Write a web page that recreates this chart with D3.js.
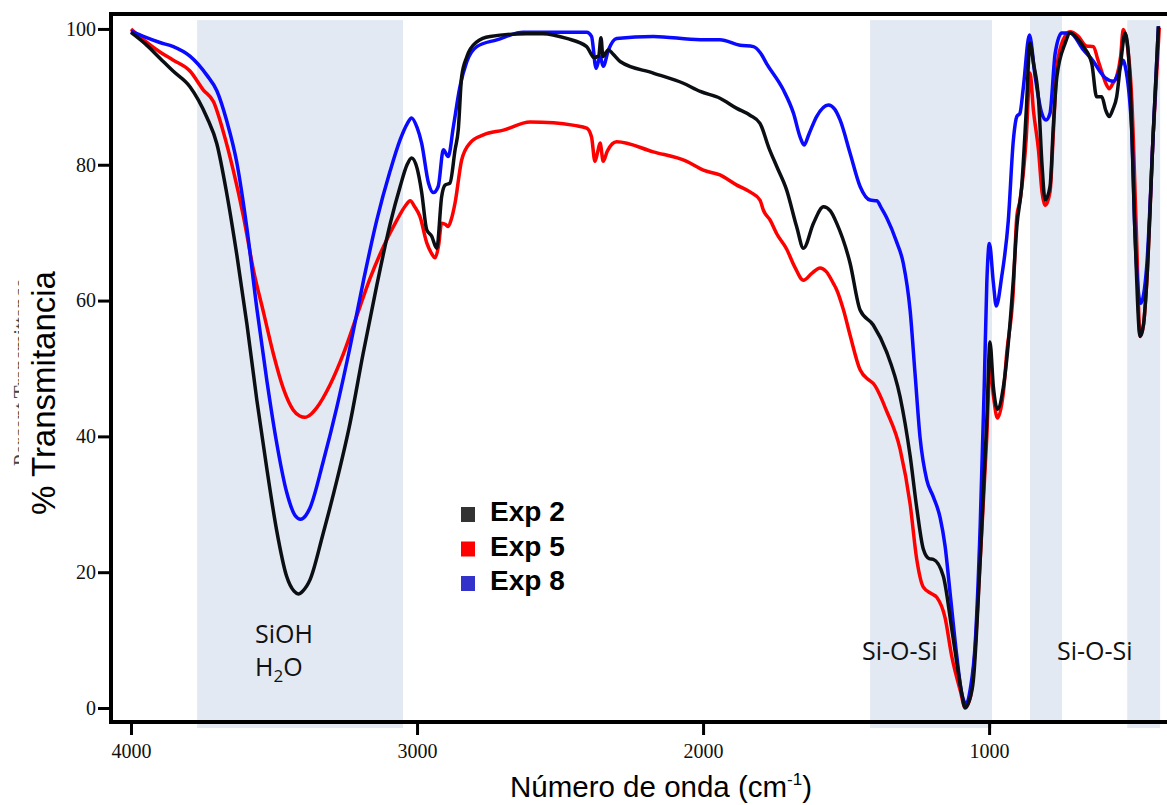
<!DOCTYPE html>
<html>
<head>
<meta charset="utf-8">
<script src="https://cdn.jsdelivr.net/npm/d3@7"></script>
<style>
  body { margin: 0; background: #fff; }
  svg { display: block; }
</style>
</head>
<body>
<div id="chart"></div>
<script>
// wavenumber (cm-1) / % transmittance
const exp2Wn = [4000,3950,3899,3853,3794,3735,3700,3665,3630,3595,3560,3525,3491,3456,3430,3415,3400,3374,3329,3281,3234,3189,3141,3094,3059,3035,3019,3000,2984,2966,2949,2931,2914,2902,2885,2867,2856,2844,2826,2791,2745,2617,2560,2477,2407,2390,2382,2365,2357,2350,2343,2331,2315,2290,2174,2069,2010,1941,1882,1836,1801,1770,1742,1708,1673,1649,1614,1579,1555,1533,1486,1451,1405,1358,1311,1276,1253,1230,1210,1195,1160,1131,1113,1095,1084,1070,1055,1031,1008,997,985,971,950,916,903,886,870,857,845,827,815,804,787,775,763,734,717,690,670,641,624,606,592,580,567,554,540,524,507,490,472,460,449,426,408];
const exp2T = [99.5,97.8,95.7,93.8,91.5,87.0,83.1,75.7,66.7,56.6,45.3,35.2,26.2,19.4,17.2,16.8,17.2,18.9,25.6,33.4,42.0,52.1,62.2,71.3,76.8,80.0,81.0,79.5,76.0,70.4,69.5,67.7,75.3,77.0,77.3,82.2,85.1,93.0,95.9,98.1,98.9,99.3,99.3,98.6,97.4,96.2,95.8,96.0,98.7,95.9,96.3,96.9,96.3,95.2,93.5,92.0,90.8,89.8,88.3,87.3,86.1,82.5,79.7,76.3,70.9,67.7,71.4,73.8,73.2,71.4,65.5,58.6,56.4,52.4,45.8,37.1,29.5,23.4,22.0,21.9,19.4,11.8,6.7,2.0,0.0,1.0,4.1,21.9,42.3,53.9,47.3,44.0,47.3,62.6,70.9,76.8,88.0,97.9,95.0,89.5,80.0,74.8,76.8,86.0,93.0,97.9,99.4,98.5,97.4,94.9,90.0,90.0,88.0,87.1,88.2,90.0,95.0,99.4,92.0,70.0,54.7,56.5,62.6,84.7,100.4];

const exp5Wn = [4000,3950,3899,3852,3794,3747,3712,3677,3642,3607,3572,3537,3502,3467,3433,3410,3392,3370,3351,3304,3258,3211,3164,3118,3071,3040,3024,3008,2990,2966,2950,2937,2925,2914,2900,2891,2880,2867,2844,2815,2768,2698,2605,2523,2450,2407,2390,2378,2368,2360,2349,2335,2302,2174,2057,1999,1941,1882,1836,1801,1789,1765,1742,1708,1680,1649,1620,1591,1570,1544,1533,1509,1486,1451,1420,1405,1358,1311,1276,1253,1230,1200,1183,1154,1131,1101,1084,1066,1050,1031,1008,997,985,971,950,938,916,903,892,870,857,845,827,815,804,787,775,763,740,717,690,660,635,620,606,592,580,567,554,540,531,520,501,485,472,460,449,426,405];
const exp5T = [100.0,98.2,96.6,95.4,93.8,91.0,89.3,84.8,79.1,72.4,64.5,58.3,52.1,47.0,43.9,43.0,42.8,43.3,44.2,47.6,52.1,57.7,63.3,67.9,71.8,74.0,74.7,73.8,72.4,68.5,67.0,66.3,68.0,71.4,71.2,70.9,72.0,74.4,80.7,83.2,84.4,85.1,86.3,86.2,85.8,85.4,84.1,80.5,82.0,83.2,80.5,82.0,83.4,81.9,80.5,79.2,78.5,77.0,76.0,74.8,73.3,71.8,69.8,67.6,65.0,63.0,64.0,64.8,64.3,62.5,61.6,58.6,54.9,49.8,48.3,47.8,43.7,38.1,30.0,21.9,17.8,16.8,16.3,13.3,7.7,2.6,0.1,1.5,8.0,22.0,40.0,50.5,46.0,42.7,46.5,52.4,61.0,72.4,74.7,84.0,93.5,88.0,82.0,76.0,74.0,76.0,85.0,94.4,98.5,99.6,99.0,97.5,97.4,95.5,93.7,92.0,91.2,92.0,93.0,96.0,99.9,98.5,89.5,70.0,54.7,56.5,62.6,84.7,100.2];

const exp8Wn = [4000,3950,3899,3852,3794,3735,3700,3665,3630,3595,3560,3525,3491,3456,3427,3407,3390,3374,3328,3281,3234,3188,3141,3094,3059,3035,3019,3000,2984,2960,2943,2926,2908,2891,2873,2850,2826,2791,2721,2628,2407,2390,2374,2360,2349,2331,2302,2174,2010,1941,1871,1824,1800,1778,1719,1684,1660,1647,1630,1603,1562,1540,1521,1486,1451,1416,1393,1375,1358,1323,1300,1276,1259,1241,1218,1195,1171,1154,1136,1113,1095,1080,1065,1049,1031,1017,1008,999,985,975,956,933,915,903,892,880,859,839,816,801,787,769,746,717,670,635,612,594,565,548,531,524,501,490,470,449,426,408];
const exp8T = [99.7,98.8,98.0,97.4,96.0,93.2,90.9,86.4,80.3,70.7,58.8,48.2,39.1,31.8,28.4,27.8,28.3,29.5,36.3,44.2,53.2,62.8,71.8,79.1,83.7,86.0,86.9,85.5,83.2,77.3,75.9,76.8,82.2,81.2,85.6,91.5,95.2,97.4,98.4,99.5,99.5,98.9,94.2,95.9,94.5,96.9,98.6,98.9,98.4,98.4,97.6,97.4,96.5,94.9,91.0,87.6,84.0,82.9,84.5,87.1,88.8,88.2,86.6,81.7,76.8,74.8,74.7,73.5,72.2,68.6,65.5,58.5,49.3,39.7,33.6,31.1,28.0,23.9,16.8,7.7,2.0,0.6,3.0,9.2,27.0,47.3,62.6,68.4,62.6,59.2,63.5,71.7,83.7,87.1,87.6,91.5,99.1,93.0,87.6,86.6,87.6,96.4,99.4,99.4,96.9,95.2,93.7,92.8,92.3,93.5,95.4,94.5,84.7,70.0,59.6,65.0,84.7,100.4];

const seriesNames = ["Exp 2", "Exp 5", "Exp 8"];
const lineColors = ["#0b0f14", "#ff0000", "#0a0aff"];
const legendColors = ["#333333", "#ff0000", "#3333cc"];

// highlighted band regions [from, to] in cm-1
const bandFrom = [3769, 1416, 857, 517];
const bandTo   = [3049,  990, 745, 402];
const yTicks = [0, 20, 40, 60, 80, 100];
const xTicks = [4000, 3000, 2000, 1000];

const width = 1167, height = 805;
const mLeft = 111, mTop = 14, mBottom = 722;

const svg = d3.select("#chart").append("svg")
    .attr("width", width)
    .attr("height", height);

const x = d3.scaleLinear().domain([4070, 378]).range([mLeft, 1167]);
const y = d3.scaleLinear().domain([-2.06, 102.2]).range([mBottom, mTop]);

// shaded bands
svg.append("g").selectAll("rect")
    .data(bandFrom.map((f, i) => ({ from: f, to: bandTo[i], i })))
    .join("rect")
    .attr("x", d => x(d.from))
    .attr("width", d => x(d.to) - x(d.from))
    .attr("y", d => d.i === 2 ? y(102.2) : y(101.3))
    .attr("height", d => d.i === 2 ? y(-2.06) - y(102.2) : y(-2.95) - y(101.3))
    .attr("fill", "#e2e9f3");

// ghost label left over from the instrument plot, mostly cut away
svg.append("clipPath").attr("id", "ghost")
    .append("rect").attr("x", 0).attr("y", 0).attr("width", 19).attr("height", height);
svg.append("g")
    .attr("clip-path", "url(#ghost)")
    .append("text")
    .attr("transform", "translate(28,466) rotate(-90)")
    .attr("font-family", "Liberation Serif")
    .attr("font-size", 21)
    .attr("fill", "#444")
    .text("Percent Transmittance");

// frame
svg.append("path")
    .attr("d", `M1175,${mTop}H${mLeft}V${mBottom}H1175`)
    .attr("fill", "none")
    .attr("stroke", "#000")
    .attr("stroke-width", 4);

const yAxis = svg.append("g")
    .attr("transform", `translate(${mLeft},0)`)
    .call(d3.axisLeft(y).tickValues(yTicks).tickSize(13).tickPadding(2));
yAxis.select(".domain").remove();
yAxis.selectAll("line").attr("stroke", "#000").attr("stroke-width", 3);
yAxis.selectAll("text")
    .attr("font-family", "Liberation Serif")
    .attr("font-size", 20)
    .attr("fill", "#111");

const xAxis = svg.append("g")
    .attr("transform", `translate(0,${mBottom})`)
    .call(d3.axisBottom(x).tickValues(xTicks).tickSize(13).tickPadding(9).tickFormat(d3.format("d")));
xAxis.select(".domain").remove();
xAxis.selectAll("line").attr("stroke", "#000").attr("stroke-width", 3);
xAxis.selectAll("text")
    .attr("font-family", "Liberation Serif")
    .attr("font-size", 20)
    .attr("fill", "#111");

// spectra
const line = d3.line()
    .x(d => x(d[0]))
    .y(d => y(d[1]))
    .curve(d3.curveMonotoneX);

const series = [
    exp5Wn.map((w, i) => [w, exp5T[i]]),
    exp8Wn.map((w, i) => [w, exp8T[i]]),
    exp2Wn.map((w, i) => [w, exp2T[i]])
];
const seriesColors = [lineColors[1], lineColors[2], lineColors[0]];

svg.append("g").selectAll("path")
    .data(series)
    .join("path")
    .attr("d", line)
    .attr("fill", "none")
    .attr("stroke", (d, i) => seriesColors[i])
    .attr("stroke-width", 3.5)
    .attr("stroke-linejoin", "round");

// band labels
const labelFont = "'Open Sans', 'Noto Sans', sans-serif";
const bandLabels = svg.append("g")
    .attr("font-family", labelFont)
    .attr("font-size", 25)
    .attr("fill", "#111");
bandLabels.append("text").attr("x", 255).attr("y", 643).text("SiOH");
const h2o = bandLabels.append("text").attr("x", 255).attr("y", 676);
h2o.append("tspan").text("H");
h2o.append("tspan").attr("font-size", 17).attr("dy", 6).text("2");
h2o.append("tspan").attr("dy", -6).text("O");
bandLabels.append("text").attr("x", 862).attr("y", 660).text("Si-O-Si");
bandLabels.append("text").attr("x", 1057).attr("y", 660).text("Si-O-Si");

// legend
const legend = svg.append("g").attr("transform", "translate(461,507)");
seriesNames.forEach((name, i) => {
    const g = legend.append("g").attr("transform", `translate(0,${i * 34.5})`);
    g.append("rect").attr("width", 14).attr("height", 15).attr("fill", legendColors[i]);
    g.append("text")
        .attr("x", 29).attr("y", 14)
        .attr("font-family", "Liberation Sans, Arial, sans-serif")
        .attr("font-weight", "bold")
        .attr("font-size", 28)
        .attr("fill", "#000")
        .text(name);
});

// axis titles
const xTitle = svg.append("text")
    .attr("x", 510).attr("y", 797)
    .attr("font-family", "Liberation Sans, Arial, sans-serif")
    .attr("font-size", 29.5)
    .attr("fill", "#000");
xTitle.append("tspan").text("Número de onda (cm");
xTitle.append("tspan").attr("font-size", 17).attr("dy", -12).text("-1");
xTitle.append("tspan").attr("dy", 12).text(")");

svg.append("text")
    .attr("transform", "translate(55,393) rotate(-90)")
    .attr("text-anchor", "middle")
    .attr("font-family", "Liberation Sans, Arial, sans-serif")
    .attr("font-size", 33)
    .attr("fill", "#000")
    .text("% Transmitancia");
</script>
</body>
</html>
